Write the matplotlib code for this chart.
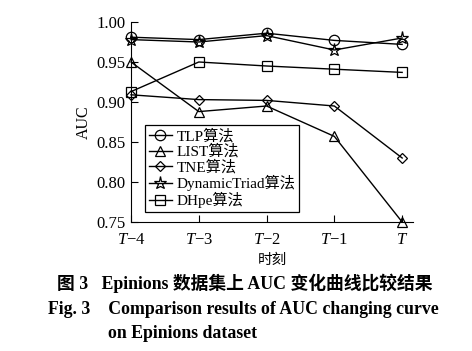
import matplotlib
matplotlib.use("Agg")
import matplotlib.pyplot as plt

times = ["$T$\u22124", "$T$\u22123", "$T$\u22122", "$T$\u22121", "$T$"]
tlp = [0.981, 0.978, 0.986, 0.977, 0.972]
list_ = [0.950, 0.888, 0.895, 0.857, 0.750]
tne = [0.909, 0.903, 0.902, 0.895, 0.830]
dyn = [0.978, 0.975, 0.983, 0.965, 0.980]
dhpe = [0.913, 0.950, 0.945, 0.941, 0.937]
yticks = [0.75, 0.80, 0.85, 0.90, 0.95, 1.00]

fam = ["Liberation Serif", "Noto Sans CJK SC"]
plt.rcParams["font.family"] = fam
plt.rcParams["mathtext.fontset"] = "custom"
plt.rcParams["mathtext.it"] = "Liberation Serif:italic"
plt.rcParams["mathtext.rm"] = "Liberation Serif"

fig = plt.figure(figsize=(4.72, 3.51), dpi=100)
ax = fig.add_axes([131/472, 1-222/351, (413-131)/472, (222-22)/351])
x = list(range(len(times)))
series = [(tlp, "o", "TLP算法"), (list_, "^", "LIST算法"), (tne, "D", "TNE算法"),
          (dyn, "*", "DynamicTriad算法"), (dhpe, "s", "DHpe算法")]
for vals, m, lab in series:
    ms = 7.5
    if m == "D":
        ms = 5.5
    if m == "*":
        ms = 9.5
    ax.plot(x, vals, color="black", lw=1, marker=m, markersize=ms,
            markerfacecolor="none", markeredgecolor="black", markeredgewidth=0.9,
            label=lab, clip_on=False, zorder=3)

ax.set_xlim(0, 4.16)
ax.set_ylim(0.75, 1.00)
ax.set_yticks(yticks)
ax.set_yticklabels([f"{v:.2f}" for v in yticks])
ax.set_xticks(x)
ax.set_xticklabels(times)
ax.spines["top"].set_visible(False)
ax.spines["right"].set_visible(False)
ax.tick_params(direction="in", length=5, width=0.8, labelsize=12)
ax.tick_params(axis="x", pad=7)
ax.tick_params(axis="y", pad=4)
ax.set_ylabel("AUC", fontsize=11.5, labelpad=3)
ax.set_xlabel("时刻", fontsize=10.5, labelpad=4)

leg = ax.legend(loc="lower left", bbox_to_anchor=(0.05, 0.05), fontsize=11,
                frameon=True, fancybox=False, edgecolor="black", framealpha=1,
                handlelength=1.5, handletextpad=0.3, labelspacing=0.05,
                borderpad=0.25, borderaxespad=0)
leg.get_frame().set_linewidth(0.9)

fig.text(245/472, 1-283/351, "图 3   Epinions 数据集上 AUC 变化曲线比较结果", ha="center", va="center",
         fontsize=12.8, fontweight="bold", family=fam)
fig.text(48/472, 1-310/351, "Fig. 3    Comparison results of AUC changing curve", ha="left", va="center",
         fontsize=12.8, fontweight="bold", family=fam)
fig.text(108/472, 1-333/351, "on Epinions dataset", ha="left", va="center",
         fontsize=12.8, fontweight="bold", family=fam)

fig.savefig("out.png", dpi=100)
